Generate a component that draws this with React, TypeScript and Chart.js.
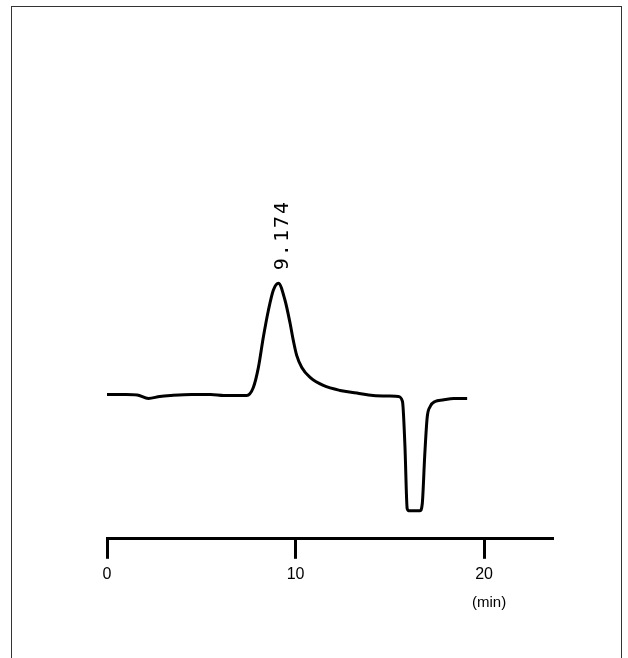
import React, { useEffect, useRef } from "react";
import { Chart, registerables } from "chart.js";

Chart.register(...registerables);

// Retention time (min) and detector signal (arbitrary units)
const times = [
  0, 1.0, 1.6, 2.2, 2.8, 3.4, 4.5, 5.5, 6.2, 7.0, 7.41,
  7.76, 8.03, 8.29, 8.56, 8.82, 9.09, 9.44, 9.71, 9.88, 10.06,
  10.33, 10.77, 11.47, 12.36, 13.25, 14.11, 15.0, 15.44, 15.67, 15.8,
  15.92, 16.0, 16.6, 16.72, 16.85, 16.98, 17.14, 17.4, 17.8, 18.4,
  18.9, 19.1,
];
const signal = [
  1, 1, 0.5, -3, -1, 0, 1, 1, 0, 0, 0,
  8, 28, 58, 85, 105, 112, 95, 72, 55, 40,
  28, 18, 10, 5, 2.5, 0, -0.5, -1, -6, -50,
  -113, -115, -115, -108, -60, -22, -11, -6, -4.5, -3,
  -3, -3,
];
const tickValues = [0, 10, 20];
const peakLabel = "9.174";
const unitLabel = "(min)";

const annotations = {
  id: "annotations",
  afterDraw(chart: any) {
    const { ctx, scales } = chart;
    const xs = scales.x;
    const ys = scales.y;
    // peak label
    let iMax = 0;
    signal.forEach((v, i) => {
      if (v > signal[iMax]) iMax = i;
    });
    const px = xs.getPixelForValue(times[iMax]);
    const py = ys.getPixelForValue(signal[iMax]);
    ctx.save();
    ctx.fillStyle = "#000";
    ctx.font = "20px 'DejaVu Sans Mono'";
    (ctx as any).letterSpacing = "2px";
    const w = ctx.measureText(peakLabel).width;
    ctx.translate(px + 4, py - 13 - w / 2);
    ctx.rotate(-Math.PI / 2);
    ctx.textAlign = "center";
    ctx.textBaseline = "middle";
    ctx.fillText(peakLabel, 0, 0);
    ctx.restore();
    // unit label
    ctx.save();
    ctx.fillStyle = "#000";
    ctx.font = "15px 'Liberation Sans'";
    ctx.textAlign = "center";
    ctx.textBaseline = "middle";
    ctx.fillText(unitLabel, xs.getPixelForValue(20) + 5, xs.top + 64);
    ctx.restore();
  },
};

export default function App() {
  const ref = useRef<HTMLCanvasElement | null>(null);
  useEffect(() => {
    if (!ref.current) return;
    const chart = new Chart(ref.current, {
      type: "line",
      data: {
        datasets: [
          {
            data: times.map((t, i) => ({ x: t, y: signal[i] })),
            borderColor: "#000",
            borderWidth: 3,
            pointRadius: 0,
            cubicInterpolationMode: "monotone",
            fill: false,
          },
        ],
      },
      options: {
        animation: false,
        responsive: false,
        maintainAspectRatio: false,
        layout: { padding: { left: 107, right: 76, top: 200, bottom: 68 } },
        plugins: { legend: { display: false }, tooltip: { enabled: false } },
        scales: {
          x: {
            type: "linear",
            min: 0,
            max: 23.6,
            afterBuildTicks: (scale: any) => {
              scale.ticks = tickValues.map((v) => ({ value: v }));
            },
            grid: {
              display: true,
              drawOnChartArea: false,
              drawTicks: true,
              tickLength: 20,
              tickColor: "#000",
              tickWidth: 3,
              color: "#000",
              lineWidth: 3,
            },
            border: { display: true, color: "#000", width: 3 },
            ticks: {
              color: "#000",
              padding: 6,
              maxRotation: 0,
              autoSkip: false,
              font: { family: "'Liberation Sans'", size: 16 },
            },
          },
          y: {
            display: false,
            min: -143,
            max: 195,
          },
        },
      },
      plugins: [annotations],
    });
    return () => chart.destroy();
  }, []);
  return (
    <div style={{ position: "fixed", left: 0, top: 0, width: 628, height: 658, background: "#fff" }}>
      <div
        style={{
          position: "absolute",
          left: 11,
          top: 6,
          width: 611,
          height: 660,
          borderTop: "1px solid #333",
          borderLeft: "1px solid #333",
          borderRight: "1px solid #333",
          boxSizing: "border-box",
        }}
      />
      <canvas ref={ref} width={628} height={658} style={{ position: "absolute", left: 0, top: 0 }} />
    </div>
  );
}
